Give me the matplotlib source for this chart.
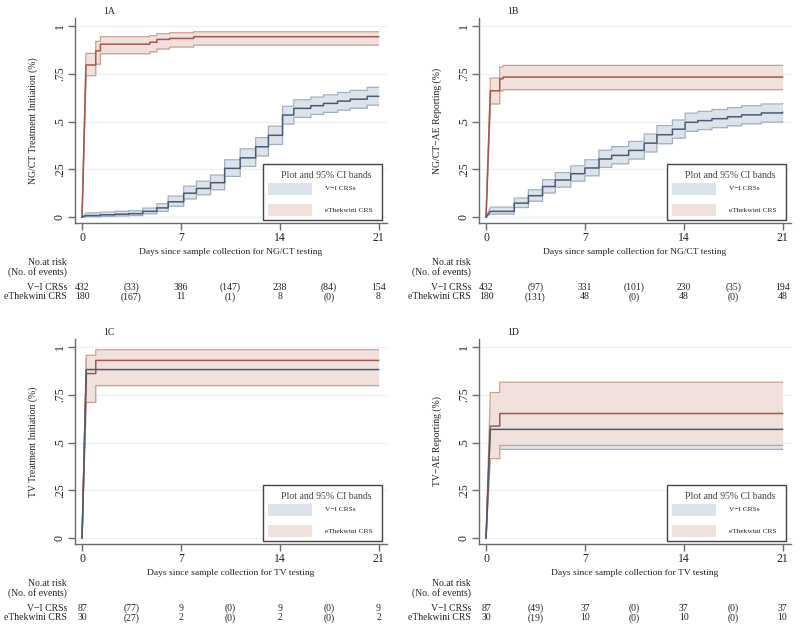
import matplotlib
matplotlib.use('Agg')
import matplotlib.pyplot as plt
import matplotlib.transforms as mtransforms
from matplotlib.patches import Rectangle

plt.rcParams['font.family'] = ['Liberation Serif', 'DejaVu Serif']

# DATOS ---------------------------------------------------------------------------------------------
# 1A  NG/CT tratamiento
a_vi_t = [0, 0.3, 1.3, 2.3, 3.3, 4.3, 5.3, 6.1, 7.2, 8.1, 9.1, 10.1, 11.2, 12.3, 13.2, 14.2, 15.0, 16.2, 17.1, 18.1, 19.0, 20.2, 21]
a_vi_s = [0, 0.008, 0.012, 0.015, 0.018, 0.03, 0.048, 0.08, 0.125, 0.15, 0.18, 0.255, 0.31, 0.368, 0.428, 0.534, 0.569, 0.583, 0.595, 0.607, 0.617, 0.632, 0.632]
a_vi_lo = [0, 0.002, 0.004, 0.006, 0.008, 0.017, 0.03, 0.057, 0.095, 0.117, 0.143, 0.213, 0.265, 0.32, 0.38, 0.487, 0.522, 0.537, 0.548, 0.56, 0.57, 0.586, 0.586]
a_vi_hi = [0, 0.022, 0.026, 0.03, 0.033, 0.047, 0.07, 0.11, 0.162, 0.188, 0.22, 0.3, 0.357, 0.416, 0.476, 0.58, 0.614, 0.628, 0.64, 0.652, 0.663, 0.679, 0.679]
a_et_t = [0, 0.28, 0.97, 1.3, 4.8, 5.3, 6.2, 7.9, 21]
a_et_s = [0, 0.796, 0.87, 0.905, 0.915, 0.93, 0.935, 0.944, 0.944]
a_et_lo = [0, 0.74, 0.80, 0.855, 0.865, 0.88, 0.89, 0.90, 0.90]
a_et_hi = [0, 0.857, 0.92, 0.944, 0.95, 0.96, 0.965, 0.97, 0.97]

# 1B  NG/CT reporte
b_vi_t = [0, 0.3, 2.0, 3.0, 4.0, 4.9, 6.0, 7.0, 8.0, 8.9, 10.1, 11.2, 12.1, 13.2, 14.1, 15.0, 16.0, 17.1, 18.1, 19.5, 21]
b_vi_s = [0, 0.03, 0.073, 0.112, 0.16, 0.194, 0.227, 0.257, 0.304, 0.323, 0.349, 0.387, 0.431, 0.46, 0.496, 0.505, 0.515, 0.525, 0.535, 0.545, 0.548]
b_vi_lo = [0, 0.016, 0.05, 0.083, 0.126, 0.157, 0.188, 0.216, 0.26, 0.279, 0.304, 0.341, 0.384, 0.413, 0.449, 0.458, 0.468, 0.478, 0.488, 0.497, 0.5]
b_vi_hi = [0, 0.052, 0.1, 0.143, 0.196, 0.233, 0.268, 0.3, 0.35, 0.369, 0.396, 0.435, 0.479, 0.508, 0.544, 0.553, 0.563, 0.573, 0.583, 0.592, 0.595]
b_et_t = [0, 0.31, 0.97, 1.2, 21]
b_et_s = [0, 0.661, 0.724, 0.733, 0.733]
b_et_lo = [0, 0.592, 0.66, 0.667, 0.667]
b_et_hi = [0, 0.728, 0.785, 0.794, 0.794]

# 1C  TV tratamiento
c_vi_t = [0, 0.3, 21]
c_vi_s = [0, 0.882, 0.882]
c_vi_lo = [0, 0.81, 0.81]
c_vi_hi = [0, 0.94, 0.94]
c_et_t = [0, 0.3, 0.97, 21]
c_et_s = [0, 0.861, 0.93, 0.93]
c_et_lo = [0, 0.71, 0.798, 0.798]
c_et_hi = [0, 0.957, 0.986, 0.986]

# 1D  TV reporte
d_vi_t = [0, 0.3, 21]
d_vi_s = [0, 0.569, 0.569]
d_vi_lo = [0, 0.464, 0.464]
d_vi_hi = [0, 0.67, 0.67]
d_et_t = [0, 0.3, 0.97, 21]
d_et_s = [0, 0.586, 0.652, 0.652]
d_et_lo = [0, 0.416, 0.485, 0.485]
d_et_hi = [0, 0.762, 0.816, 0.816]

# Tablas de riesgo
risk_cols = [0, 3.5, 7, 10.5, 14, 17.5, 21]
a_risk_vi = ['432', '(33)', '386', '(147)', '238', '(84)', '154']
a_risk_et = ['180', '(167)', '11', '(1)', '8', '(0)', '8']
b_risk_vi = ['432', '(97)', '331', '(101)', '230', '(35)', '194']
b_risk_et = ['180', '(131)', '48', '(0)', '48', '(0)', '48']
c_risk_vi = ['87', '(77)', '9', '(0)', '9', '(0)', '9']
c_risk_et = ['30', '(27)', '2', '(0)', '2', '(0)', '2']
d_risk_vi = ['87', '(49)', '37', '(0)', '37', '(0)', '37']
d_risk_et = ['30', '(19)', '10', '(0)', '10', '(0)', '10']

x_ticks = [0, 7, 14, 21]
y_ticks = [0, 0.25, 0.5, 0.75, 1]
y_tick_labels = ['0', '.25', '.5', '.75', '1']

# Colores
vi_line, vi_fill, vi_edge = '#4a5b73', '#dde3ea', '#9fb0c4'
et_line, et_fill, et_edge = '#a5574b', '#f0e1dd', '#cf9d91'
txt = '#222222'
W, H = 800, 629


def step_xy(t, s):
    # subida diagonal inicial, luego escalones
    xs, ys = [t[0], t[1]], [s[0], s[1]]
    for i in range(2, len(t)):
        xs += [t[i], t[i]]
        ys += [s[i - 1], s[i]]
    return xs, ys


def draw_panel(left_px, top_px, tag, ylabel, xlabel, vi, et, risk_vi, risk_et):
    ax = fig.add_axes([left_px / W, 1 - (top_px + 205) / H, 312 / W, 205 / H])
    ax.set_xlim(-0.5, 21.6)
    ax.set_ylim(-0.031, 1.042)

    for y in y_ticks:
        ax.axhline(y, color='#eef0f3', lw=1, zorder=0)

    # bandas: primero azul, luego roja encima (opaca)
    z = 1
    for (t, s, lo, hi), fc, ec in [(vi, vi_fill, vi_edge), (et, et_fill, et_edge)]:
        xl, yl = step_xy(t, lo)
        xh, yh = step_xy(t, hi)
        ax.fill_between(xl, yl, yh, color=fc, lw=0, zorder=z)
        ax.plot(xl, yl, color=ec, lw=0.9, zorder=z + 0.5)
        ax.plot(xh, yh, color=ec, lw=0.9, zorder=z + 0.5)
        z += 1
    for (t, s, lo, hi), lc in [(et, et_line), (vi, vi_line)]:
        xs, ys = step_xy(t, s)
        ax.plot(xs, ys, color=lc, lw=1.1, zorder=4)

    for sp in ['top', 'right']:
        ax.spines[sp].set_visible(False)
    for sp in ['left', 'bottom']:
        ax.spines[sp].set_color('#6b6b6b')
        ax.spines[sp].set_linewidth(1)

    ax.set_xticks(x_ticks)
    ax.set_xticklabels([str(v) for v in x_ticks], fontsize=8.5, color=txt)
    ax.set_yticks(y_ticks)
    ax.set_yticklabels(y_tick_labels, fontsize=8.5, color=txt, rotation=90, va='center')
    ax.tick_params(axis='both', direction='out', length=5, width=1, color='#6b6b6b', pad=1.5)

    ax.set_ylabel(ylabel, fontsize=7, color=txt)
    ax.yaxis.set_label_coords(-37 / 312, 0.5)
    ax.set_xlabel(xlabel, fontsize=6.8, color=txt)
    ax.xaxis.set_label_coords(0.5, -0.122)

    ax.text(0.09, 1.03, tag, transform=ax.transAxes, fontsize=7, color=txt, ha='left', va='center')

    # leyenda manual
    ax.add_patch(Rectangle((0.603, 0.015), 0.381, 0.273, transform=ax.transAxes,
                           facecolor='white', edgecolor='#444444', lw=1, zorder=5))
    ax.text(0.805, 0.234, 'Plot and 95% CI bands', transform=ax.transAxes,
            fontsize=7, color='#444444', ha='center', va='center', zorder=6)
    ax.add_patch(Rectangle((0.619, 0.137), 0.141, 0.06, transform=ax.transAxes,
                           facecolor=vi_fill, edgecolor='none', zorder=6))
    ax.add_patch(Rectangle((0.619, 0.034), 0.141, 0.06, transform=ax.transAxes,
                           facecolor=et_fill, edgecolor='none', zorder=6))
    ax.text(0.80, 0.166, 'V−I CRSs', transform=ax.transAxes, fontsize=5.3, color=txt,
            ha='left', va='center', zorder=6)
    ax.text(0.80, 0.063, 'eThekwini CRS', transform=ax.transAxes, fontsize=5.3, color=txt,
            ha='left', va='center', zorder=6)

    # tabla de riesgo
    tr = mtransforms.blended_transform_factory(ax.transData, ax.transAxes)
    rows = [(-0.205, 'No.at risk'), (-0.252, '(No. of events)'),
            (-0.327, 'V−I CRSs'), (-0.372, 'eThekwini CRS')]
    for y, lab in rows:
        ax.text(-0.026, y, lab, transform=ax.transAxes, fontsize=7, color=txt,
                ha='right', va='baseline')
    for x, a, b in zip(risk_cols, risk_vi, risk_et):
        ax.text(x, -0.327, a, transform=tr, fontsize=7, color=txt, ha='center', va='baseline')
        ax.text(x, -0.372, b, transform=tr, fontsize=7, color=txt, ha='center', va='baseline')
    return ax


fig = plt.figure(figsize=(8, 6.29), dpi=100)

draw_panel(75, 18, '1A', 'NG/CT Treatment Initiation (%)', 'Days since sample collection for NG/CT testing',
           (a_vi_t, a_vi_s, a_vi_lo, a_vi_hi), (a_et_t, a_et_s, a_et_lo, a_et_hi), a_risk_vi, a_risk_et)
draw_panel(479, 18, '1B', 'NG/CT−AE Reporting (%)', 'Days since sample collection for NG/CT testing',
           (b_vi_t, b_vi_s, b_vi_lo, b_vi_hi), (b_et_t, b_et_s, b_et_lo, b_et_hi), b_risk_vi, b_risk_et)
draw_panel(75, 339, '1C', 'TV Treatment Initiation (%)', 'Days since sample collection for TV testing',
           (c_vi_t, c_vi_s, c_vi_lo, c_vi_hi), (c_et_t, c_et_s, c_et_lo, c_et_hi), c_risk_vi, c_risk_et)
draw_panel(479, 339, '1D', 'TV−AE Reporting (%)', 'Days since sample collection for TV testing',
           (d_vi_t, d_vi_s, d_vi_lo, d_vi_hi), (d_et_t, d_et_s, d_et_lo, d_et_hi), d_risk_vi, d_risk_et)

plt.savefig('out.png', dpi=100)
